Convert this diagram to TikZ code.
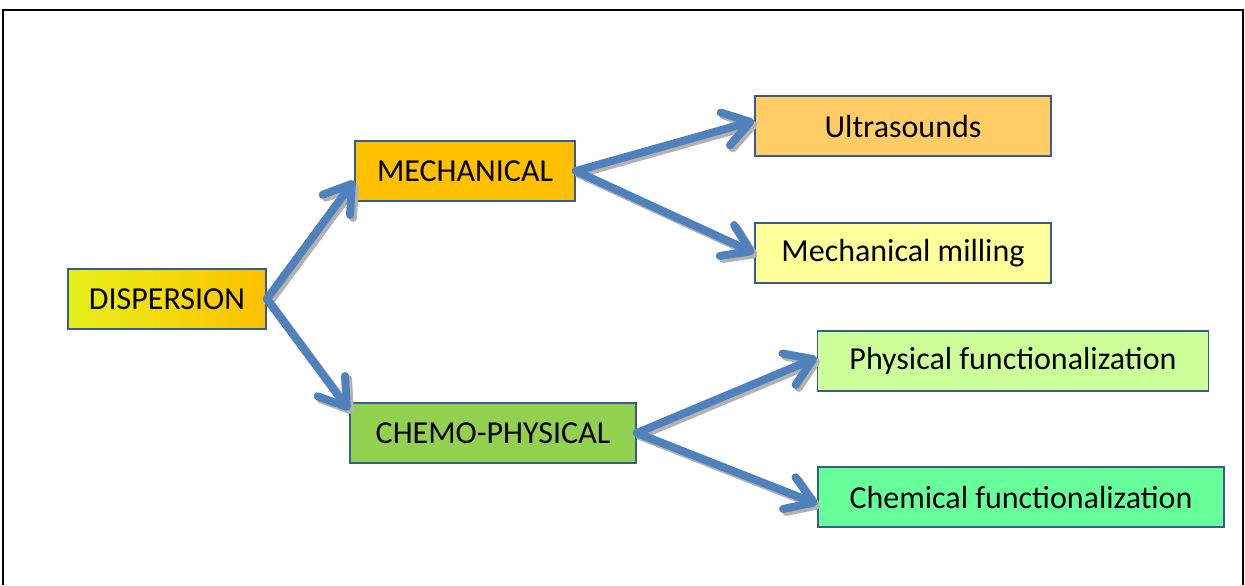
\documentclass[tikz,border=0pt]{standalone}
\usepackage{fontspec}
\setmainfont{Carlito}
\usepackage{tikz}
\usetikzlibrary{arrows.meta}

\definecolor{arrowblue}{HTML}{4F81BD}
\definecolor{boxline}{HTML}{385D8A}
\definecolor{dispgreen}{HTML}{C8E03C}
\definecolor{mechorange}{HTML}{FFC000}
\definecolor{ultraorange}{HTML}{FFCC66}
\definecolor{millyellow}{HTML}{FFFF99}
\definecolor{chemogreen}{HTML}{92D050}
\definecolor{physgreen}{HTML}{CCFF99}
\definecolor{chemgreen}{HTML}{66FF99}

\begin{document}
\begin{tikzpicture}[x=0.5pt, y=-0.5pt,
    box/.style={draw=boxline, line width=0.8pt, minimum height=30pt, inner sep=0pt,
        font=\fontsize{16}{18}\selectfont},
    link/.style={draw=arrowblue, line width=4pt, line cap=round,
        -{Straight Barb[length=13pt, width=17pt, round]}},
    link shadow/.style={link, draw=black!30, transform canvas={xshift=1.5pt, yshift=-1.5pt}}]
    \useasboundingbox (0,0) rectangle (1245,585);
    \draw[line width=1pt] (3,585) -- (3,10) -- (1243,10) -- (1243,585);

    % root and first level
    \node[box, minimum width=99pt, left color=yellow!55!dispgreen, middle color=yellow,
        right color=mechorange] (disp) at (167,299) {DISPERSION};
    \node[box, minimum width=110pt, fill=mechorange] (mech) at (465,171) {MECHANICAL};
    \node[box, minimum width=143pt, fill=chemogreen] (chemo) at (493,433) {CHEMO-PHYSICAL};

    % second level
    \node[box, minimum width=148pt, fill=ultraorange] (ultra) at (903,126) {Ultrasounds};
    \node[box, minimum width=148pt, fill=millyellow] (mill) at (903,253) {Mechanical milling};
    \node[box, minimum width=195.5pt, fill=physgreen] (phys) at (1013,361) {Physical functionalization};
    \node[box, minimum width=203pt, fill=chemgreen] (chem) at (1021,497) {Chemical functionalization};

    \foreach \a/\b in {disp.east/mech.185, disp.east/chemo.171, mech.east/ultra.178,
        mech.east/mill.west, chemo.east/phys.179, chemo.east/chem.182} {
        \draw[link shadow] (\a) -- (\b);
        \draw[link] (\a) -- (\b);
    }
\end{tikzpicture}
\end{document}
